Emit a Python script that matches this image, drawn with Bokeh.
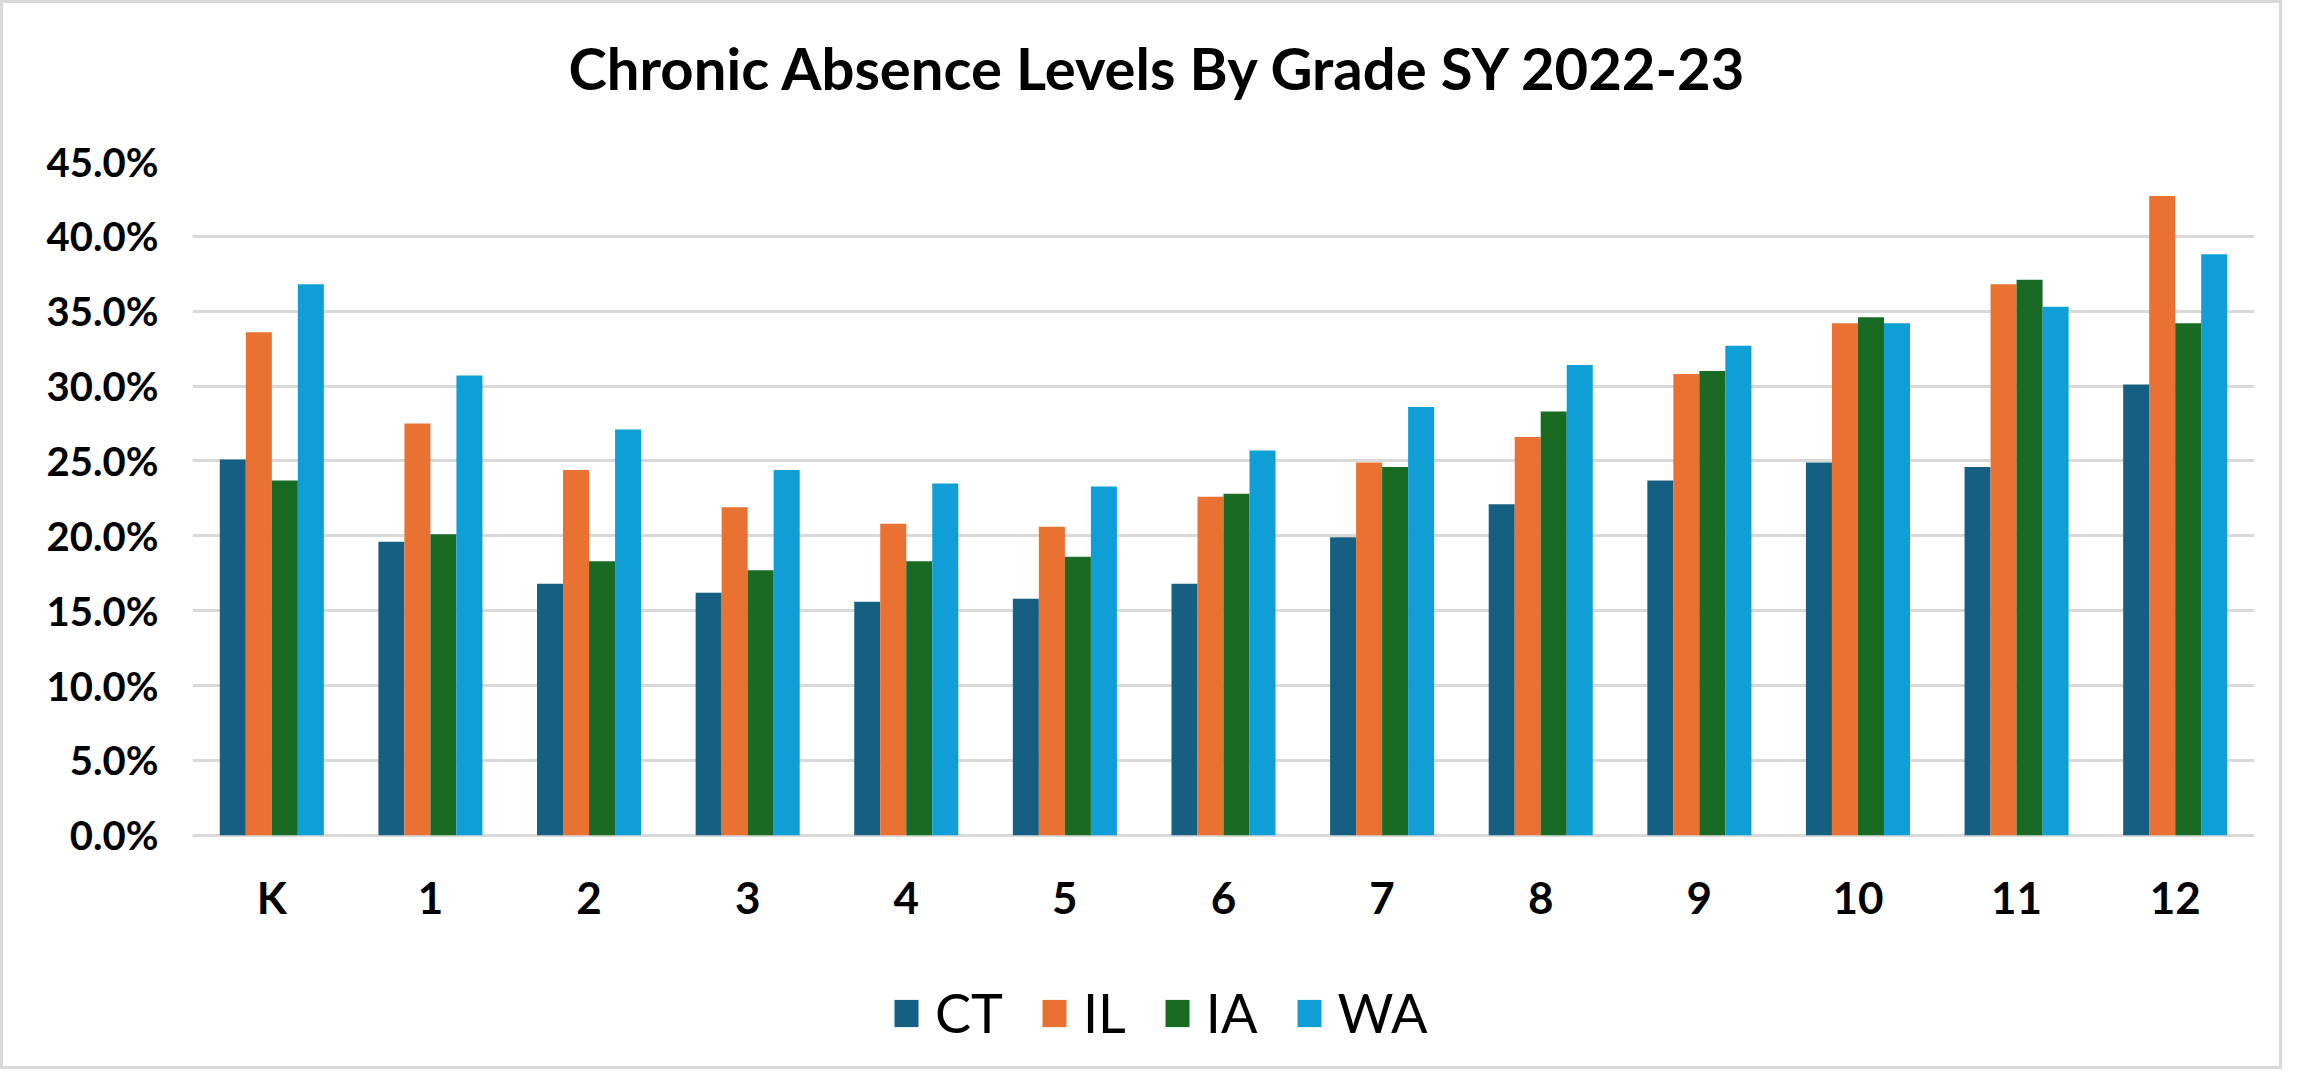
from bokeh.plotting import figure
from bokeh.models import (ColumnDataSource, FactorRange, Range1d, FixedTicker,
                          PrintfTickFormatter, Legend, LegendItem, Title)
from bokeh.transform import dodge
from bokeh.embed import file_html
from bokeh.resources import INLINE

grades = ["K", "1", "2", "3", "4", "5", "6", "7", "8", "9", "10", "11", "12"]
ct = [25.1, 19.6, 16.8, 16.2, 15.6, 15.8, 16.8, 19.9, 22.1, 23.7, 24.9, 24.6, 30.1]
il = [33.6, 27.5, 24.4, 21.9, 20.8, 20.6, 22.6, 24.9, 26.6, 30.8, 34.2, 36.8, 42.7]
ia = [23.7, 20.1, 18.3, 17.7, 18.3, 18.6, 22.8, 24.6, 28.3, 31.0, 34.6, 37.1, 34.2]
wa = [36.8, 30.7, 27.1, 24.4, 23.5, 23.3, 25.7, 28.6, 31.4, 32.7, 34.2, 35.3, 38.8]
series_names = ["CT", "IL", "IA", "WA"]
colors = ["#156082", "#E97132", "#196B24", "#0F9ED5"]
y_ticks = [0, 5, 10, 15, 20, 25, 30, 35, 40, 45]
title_text = "Chronic Absence Levels By Grade SY 2022-23"

# layout (pixels in figure coordinates)
W, H = 2282, 1069
frame_top, zero_px, border_bottom = 155, 831, 20
y_max = 45
px_per_unit = (zero_px - frame_top) / y_max
y_min = -((H - border_bottom) - zero_px) / px_per_unit

src = ColumnDataSource(dict(grade=grades, CT=ct, IL=il, IA=ia, WA=wa))

p = figure(width=W, height=H, x_range=FactorRange(*grades), y_range=Range1d(y_min, y_max),
           output_backend="svg", toolbar_location=None,
           min_border_left=189, min_border_right=31, min_border_top=frame_top,
           min_border_bottom=border_bottom)
p.styles = {"border": "3px solid #d9d9d9", "box-sizing": "border-box"}

# spacer between title and plot area, then the title itself
p.add_layout(Title(text=" ", text_font="Lato", text_font_size="10px", standoff=19,
                   text_color="#ffffff"), "above")
p.add_layout(Title(text=title_text, align="left", offset=376, standoff=54,
                   text_font="Lato", text_font_size="58px", text_font_style="bold",
                   text_color="#000000"), "above")

bw = 0.164
offsets = [-0.246, -0.082, 0.082, 0.246]
renderers = []
for name, off, col in zip(series_names, offsets, colors):
    r = p.vbar(x=dodge("grade", off, range=p.x_range), top=name, width=bw, bottom=0,
               source=src, fill_color=col, line_color=None)
    renderers.append(r)

p.outline_line_color = None
p.xgrid.grid_line_color = None
p.ygrid.grid_line_color = "#d9d9d9"
p.ygrid.grid_line_width = 3
p.yaxis.ticker = FixedTicker(ticks=y_ticks)
p.yaxis.formatter = PrintfTickFormatter(format="%.1f%%")
for ax in (p.xaxis, p.yaxis):
    ax.axis_line_color = None
    ax.major_tick_line_color = None
    ax.minor_tick_line_color = None
    ax.major_label_text_font = "Lato"
    ax.major_label_text_font_style = "bold"
    ax.major_label_text_color = "#000000"
p.yaxis.major_label_text_font_size = "40px"
p.yaxis.major_label_standoff = 28
p.xaxis.fixed_location = 0
p.xaxis.major_label_text_font_size = "44px"
p.xaxis.major_label_standoff = 30
p.x_range.range_padding = 0
p.x_range.group_padding = 0

legend = Legend(items=[LegendItem(label=n, renderers=[r]) for n, r in zip(series_names, renderers)],
                orientation="horizontal", location=(699, 7),
                glyph_width=30, glyph_height=34, label_standoff=14, spacing=36,
                label_text_font="Lato", label_text_font_size="54px", label_text_color="#000000",
                border_line_color=None, background_fill_alpha=0, padding=0, margin=0)
p.add_layout(legend, "center")

open("out.html", "w").write(file_html(p, INLINE))
